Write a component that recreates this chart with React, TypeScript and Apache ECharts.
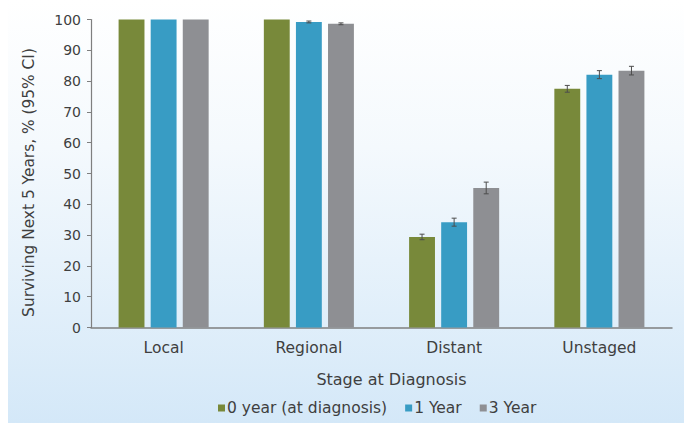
import React, { useEffect, useRef } from "react";
import * as echarts from "echarts";

const stages = ["Local", "Regional", "Distant", "Unstaged"];
const seriesNames = ["0 year (at diagnosis)", "1 Year", "3 Year"];
const colors = ["#78893a", "#389cc4", "#8e8f93"];
const year0 = [100, 100, 29.4, 77.5];
const year1 = [100, 99.2, 34.2, 82.1];
const year3 = [100, 98.6, 45.3, 83.4];
const ci0 = [0, 0, 0.9, 1.1];
const ci1 = [0, 0.3, 1.3, 1.3];
const ci3 = [0, 0.3, 1.9, 1.4];
const yTicks = [0, 10, 20, 30, 40, 50, 60, 70, 80, 90, 100];

const CAT_GAP = 0.38;
const BAR_GAP = 0.24;

function errorSeries(idx: number, values: number[], ci: number[]) {
  const n = seriesNames.length;
  return {
    type: "custom",
    name: seriesNames[idx] + " CI",
    z: 5,
    silent: true,
    data: values.map((v, i) => [i, v, ci[i]]),
    renderItem: (params: any, api: any) => {
      const cat = api.value(0);
      const v = api.value(1);
      const e = api.value(2);
      if (!e) return { type: "group", children: [] };
      const band = api.size([1, 0])[0];
      const groupW = band * (1 - CAT_GAP);
      const barW = groupW / (n + (n - 1) * BAR_GAP);
      const cx0 = api.coord([cat, v])[0];
      const cx = cx0 - groupW / 2 + idx * barW * (1 + BAR_GAP) + barW / 2;
      const top = api.coord([cat, v + e])[1];
      const bot = api.coord([cat, v - e])[1];
      const cap = 2.5;
      const style = { stroke: "#4d4d4d", lineWidth: 1 };
      return {
        type: "group",
        children: [
          { type: "line", shape: { x1: cx, y1: top, x2: cx, y2: bot }, style },
          { type: "line", shape: { x1: cx - cap, y1: top, x2: cx + cap, y2: top }, style },
          { type: "line", shape: { x1: cx - cap, y1: bot, x2: cx + cap, y2: bot }, style },
        ],
      };
    },
  };
}

export default function App() {
  const ref = useRef<HTMLDivElement>(null);
  useEffect(() => {
    if (!ref.current) return;
    const chart = echarts.init(ref.current, null, { renderer: "svg" });
    const font = "DejaVu Sans, sans-serif";
    const txt = "#3f3f3f";
    const values = [year0, year1, year3];
    chart.setOption({
      animation: false,
      textStyle: { fontFamily: font },
      graphic: [
        {
          type: "rect",
          z: -10,
          shape: { x: 8, y: 0, width: 676, height: 423 },
          style: {
            fill: new echarts.graphic.LinearGradient(0, 0, 0, 1, [
              { offset: 0, color: "#ffffff" },
              { offset: 0.35, color: "#f4f9fd" },
              { offset: 1, color: "#d4e8f8" },
            ]),
          },
        },
      ],
      grid: { left: 91, right: 12, top: 19.5, bottom: 95.5 },
      legend: {
        bottom: 2,
        left: 213,
        itemWidth: 7,
        itemHeight: 7,
        itemGap: 18,
        icon: "rect",
        textStyle: { color: txt, fontSize: 15.5, fontFamily: font, padding: [0, 0, 0, -3] },
        data: seriesNames,
      },
      xAxis: {
        type: "category",
        data: stages,
        name: "Stage at Diagnosis",
        nameLocation: "middle",
        nameGap: 44,
        nameTextStyle: { color: txt, fontSize: 16, fontFamily: font, padding: [0, 0, 0, 20] },
        axisLine: { lineStyle: { color: "#7f7f7f", width: 1.5 } },
        axisTick: { show: false },
        axisLabel: { color: txt, fontSize: 15.5, margin: 12, fontFamily: font },
      },
      yAxis: {
        type: "value",
        min: 0,
        max: 100,
        interval: 10,
        name: "Surviving Next 5 Years, % (95% CI)",
        nameLocation: "middle",
        nameGap: 55,
        nameTextStyle: { color: txt, fontSize: 15.4, fontFamily: font, padding: [0, 18, 0, 0] },
        axisLine: { show: true, lineStyle: { color: "#7f7f7f", width: 1.2 } },
        axisTick: { show: true, length: 4, lineStyle: { color: "#7f7f7f" } },
        splitLine: { show: false },
        axisLabel: {
          color: txt,
          fontSize: 14,
          margin: 10,
          fontFamily: font,
          formatter: (v: number) => (yTicks.includes(v) ? String(v) : ""),
        },
      },
      series: [
        ...values.map((vals, i) => ({
          type: "bar",
          name: seriesNames[i],
          data: vals,
          itemStyle: { color: colors[i] },
          barCategoryGap: (CAT_GAP * 100) + "%",
          barGap: (BAR_GAP * 100) + "%",
        })),
        errorSeries(0, year0, ci0),
        errorSeries(1, year1, ci1),
        errorSeries(2, year3, ci3),
      ],
    });
    return () => chart.dispose();
  }, []);
  return <div ref={ref} style={{ width: 684, height: 423, position: "absolute", left: 0, top: 0 }} />;
}
